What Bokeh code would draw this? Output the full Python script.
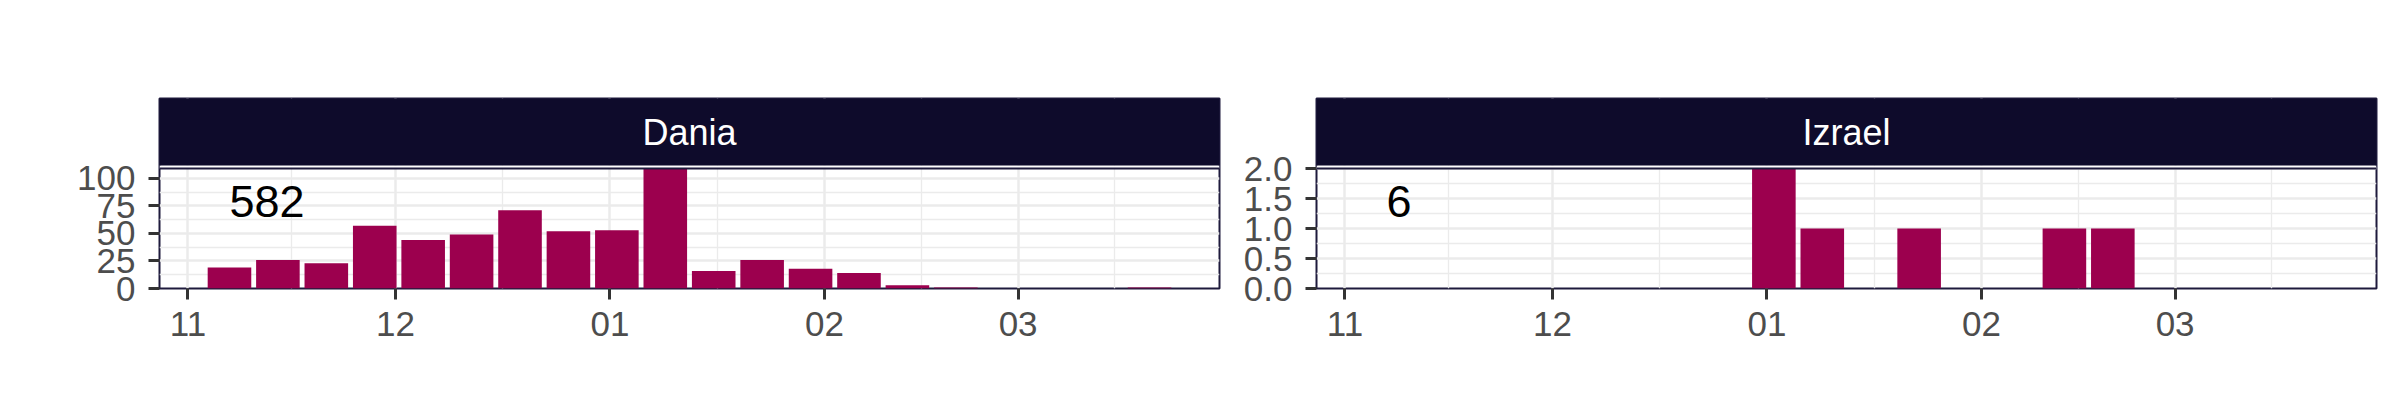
import pandas as pd
from bokeh.plotting import figure
from bokeh.models import (Range1d, FixedTicker, DatetimeTickFormatter, NumeralTickFormatter,
                          BoxAnnotation, Span, Label)
from bokeh.layouts import row
from bokeh.core.properties import value
from bokeh.embed import file_html
from bokeh.resources import INLINE

# ---------------- data ----------------
countries = ["Dania", "Izrael"]
dania_weeks = ["2020-11-07", "2020-11-14", "2020-11-21", "2020-11-28", "2020-12-05",
               "2020-12-12", "2020-12-19", "2020-12-26", "2021-01-02", "2021-01-09",
               "2021-01-16", "2021-01-23", "2021-01-30", "2021-02-06", "2021-02-13",
               "2021-02-20", "2021-03-20"]
dania_counts = [19, 26, 23, 57, 44, 49, 71, 52, 53, 109, 16, 26, 18, 14, 3, 1, 1]
izrael_weeks = ["2021-01-02", "2021-01-09", "2021-01-23", "2021-02-13", "2021-02-20"]
izrael_counts = [2, 1, 1, 1, 1]
month_ticks = ["2020-11-01", "2020-12-01", "2021-01-01", "2021-02-01", "2021-03-01"]
month_labels = ["11", "12", "01", "02", "03"]
dania_yticks = [0, 25, 50, 75, 100]
izrael_yticks = [0, 0.5, 1.0, 1.5, 2.0]
label_date = "2020-11-07"

# ---------------- style ----------------
BAR = "#9C004E"
STRIP = "#0E0B2B"
BORDER = "#1E1A3C"
GRID = "#EBEBEB"
FONT = "Liberation Sans"
DAY = 86400000.0
BAR_W = 6.3 * DAY
PANEL_H = 120   # px of the data panel
STRIP_H = 67
GAP_H = 3
FRAME_H = PANEL_H + GAP_H + STRIP_H
FRAME_W = 1060
TOP = 98


def ms(s):
    return pd.Timestamp(s).value / 1e6


all_x = [ms(d) for d in dania_weeks + izrael_weeks]
lo = min(all_x) - BAR_W / 2
hi = max(all_x) + BAR_W / 2
pad = 0.05 * (hi - lo)
x_start, x_end = lo - pad, hi + pad

maj = [ms(d) for d in month_ticks]
minor_x = [(a + b) / 2 for a, b in zip(maj[:-1], maj[1:])] + [maj[-1] + (maj[-1] - maj[-2]) / 2]


def panel(name, weeks, counts, yticks, fmt, left_border, right_border):
    ymax = max(counts)
    y_end = ymax * FRAME_H / PANEL_H
    strip_bottom = ymax * (PANEL_H + GAP_H) / PANEL_H
    p = figure(width=left_border + FRAME_W + right_border, height=TOP + FRAME_H + 70,
               x_axis_type="datetime",
               x_range=Range1d(x_start, x_end), y_range=Range1d(0, y_end),
               min_border_left=left_border, min_border_right=right_border,
               min_border_top=TOP, min_border_bottom=70,
               toolbar_location=None, output_backend="svg")
    p.background_fill_color = "white"
    p.outline_line_color = BORDER
    p.outline_line_width = 2

    xt = FixedTicker(ticks=maj, minor_ticks=minor_x)
    p.xaxis.ticker = xt
    p.xgrid.ticker = xt
    p.xaxis.formatter = DatetimeTickFormatter(days="%m", months="%m", years="%m")

    ymin_ticks = [(a + b) / 2 for a, b in zip(yticks[:-1], yticks[1:])]
    yt = FixedTicker(ticks=yticks, minor_ticks=ymin_ticks)
    p.yaxis.ticker = yt
    p.ygrid.ticker = yt
    p.yaxis.formatter = NumeralTickFormatter(format=fmt)

    for g in (p.xgrid, p.ygrid):
        g.grid_line_color = GRID
        g.grid_line_width = 2.5
        g.minor_grid_line_color = GRID
        g.minor_grid_line_width = 1.3

    for ax in (p.xaxis, p.yaxis):
        ax.axis_line_color = None
        ax.major_tick_in = 0
        ax.major_tick_out = 11
        ax.major_tick_line_color = "#333333"
        ax.major_tick_line_width = 3
        ax.minor_tick_line_color = None
        ax.major_label_text_font = FONT
        ax.major_label_text_font_size = "35px"
        ax.major_label_text_color = "#4D4D4D"
    p.xaxis.major_label_standoff = 12
    p.yaxis.major_label_standoff = 13

    p.vbar(x=[ms(d) for d in weeks], top=counts, width=BAR_W,
           fill_color=BAR, line_color=None)

    p.text(x=[ms(label_date)], y=[0.729 * ymax], text=[str(sum(counts))],
           text_align="left", text_baseline="middle", text_color="black",
           text_font=value(FONT), text_font_size=value("45px"))

    # gap and strip above the panel
    p.add_layout(BoxAnnotation(bottom=ymax, top=strip_bottom, fill_color="white",
                               fill_alpha=1, line_color=None))
    p.add_layout(BoxAnnotation(bottom=strip_bottom, fill_color=STRIP,
                               fill_alpha=1, line_color=None))
    p.add_layout(Span(location=ymax, dimension="width", line_color=BORDER, line_width=2))
    p.add_layout(Label(x=(x_start + x_end) / 2, y=(strip_bottom + y_end) / 2, text=name,
                       text_align="center", text_baseline="middle", text_color="white",
                       text_font=FONT, text_font_size="36px"))
    return p


p1 = panel(countries[0], dania_weeks, dania_counts, dania_yticks, "0", 159, 10)
p2 = panel(countries[1], izrael_weeks, izrael_counts, izrael_yticks, "0.0", 87, 10)
layout = row(p1, p2)

open("out.html", "w").write(file_html(layout, INLINE))
